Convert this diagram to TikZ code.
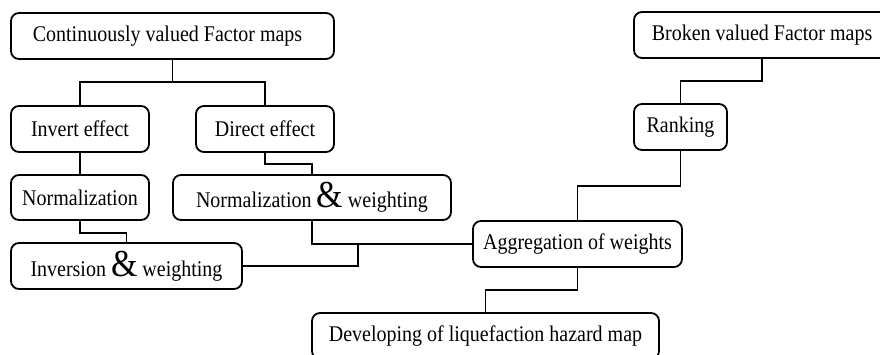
\documentclass[tikz,border=0pt]{standalone}
\usepackage{fontspec}
\usepackage{graphicx}
\setmainfont{Liberation Serif}
\begin{document}
\begin{tikzpicture}[x=1pt,y=-1pt,
  box/.style={draw=black,line width=1.8pt,rounded corners=8pt,inner sep=0pt,
    font=\fontsize{20}{24}\selectfont,anchor=center},
  wire/.style={draw=black,line width=1.8pt}]
\useasboundingbox (0,0) rectangle (880,354);
\clip (0,0) rectangle (880,354);
\newcommand{\bigamp}{{\fontsize{34}{34}\selectfont\&}}
\newcommand{\tx}[1]{\scalebox{1}[1.12]{#1}}
\node[box,minimum width=323pt,minimum height=46pt] (A) at (172.5,36) {\tx{Continuously valued Factor maps}\hspace*{10pt}};
\node[box,minimum width=138pt,minimum height=46pt] (B) at (80,129) {\tx{Invert effect}};
\node[box,minimum width=138pt,minimum height=46pt] (C) at (265,129) {\tx{Direct effect}};
\node[box,minimum width=138pt,minimum height=45pt] (D) at (80,197.5) {\tx{Normalization}};
\node[box,minimum width=278pt,minimum height=45pt] (E) at (312,197.5) {\tx{Normalization \bigamp{} weighting}};
\node[box,minimum width=231pt,minimum height=46pt] (F) at (126.5,266) {\tx{Inversion \bigamp{} weighting}};
\node[box,minimum width=209pt,minimum height=46pt] (G) at (577.5,244) {\tx{Aggregation of weights}};
\node[box,minimum width=347pt,minimum height=46pt] (H) at (485.5,336) {\tx{Developing of liquefaction hazard map}};
\node[box,minimum width=256pt,minimum height=46pt] (I) at (762,35) {\tx{Broken valued Factor maps}};
\node[box,minimum width=93pt,minimum height=46pt] (J) at (680.5,127) {\tx{Ranking}};
\coordinate (a1) at (172.5,82);
\coordinate (j1) at (358,244);
\draw[wire] (A.south) -- (a1);
\draw[wire] (a1) -| (B.north);
\draw[wire] (a1) -| (C.north);
\draw[wire] (B.south) -- (D.north);
\draw[wire] (C.south) -- ++(0,11) -| (E.north);
\draw[wire] (D.south) -- ++(0,12) -| (F.north);
\draw[wire] (E.south) |- (G.west);
\draw[wire] (F.east) -| (j1);
\draw[wire] (I.south) -- ++(0,22) -| (J.north);
\draw[wire] (J.south) -- ++(0,35) -| (G.north);
\draw[wire] (G.south) -- ++(0,22) -| (H.north);
\end{tikzpicture}
\end{document}
